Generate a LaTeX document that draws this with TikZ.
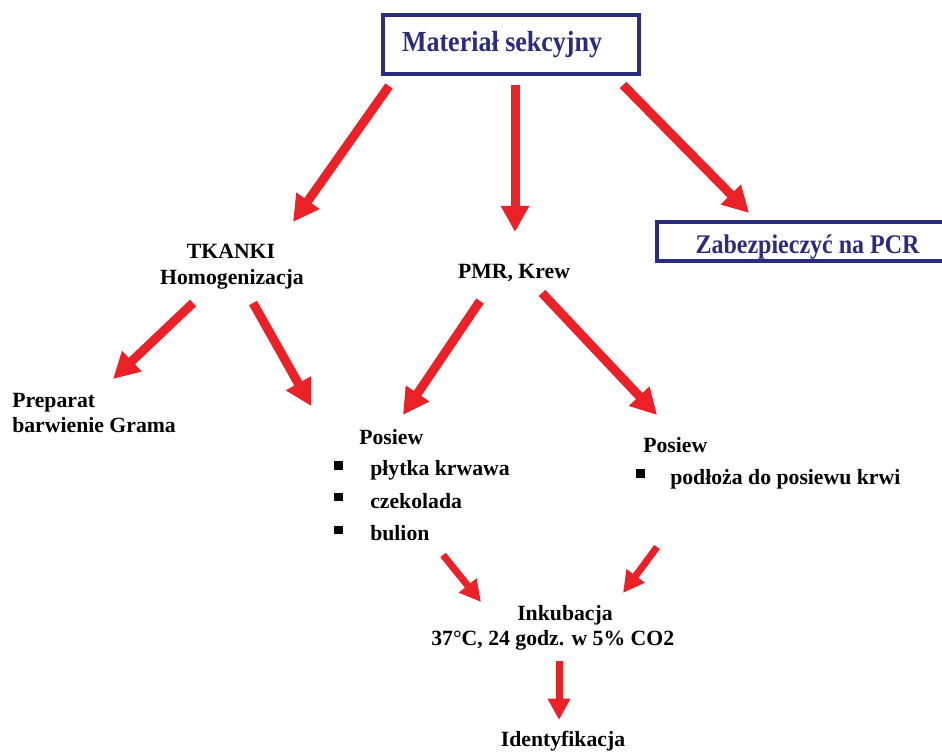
\documentclass[tikz,border=0pt]{standalone}
\usepackage{fontspec}
\usepackage{graphicx}
\setmainfont{Liberation Serif}
\usetikzlibrary{arrows.meta}
\definecolor{navy}{RGB}{43,43,128}
\definecolor{arrred}{RGB}{236,32,39}
\begin{document}
\begin{tikzpicture}[x=0.75pt,y=-0.75pt,
  lbl/.style={font=\fontsize{16.3}{19.5}\selectfont\bfseries, inner sep=0pt, text=black},
  navytxt/.style={font=\fontsize{19.5}{22}\selectfont\bfseries, inner sep=0pt, text=navy},
  navybox/.style={draw=navy, line width=3pt, inner sep=0pt, fill=white},
  bulletsq/.style={fill=black, inner sep=0pt, minimum size=6.5pt},
  bigarrow/.style={draw=arrred, line width=6.75pt, -{Triangle[width=20pt,length=19.5pt]}},
  smallarrow/.style={draw=arrred, line width=5.25pt, -{Triangle[width=16pt,length=16pt]}}]
\useasboundingbox (0,0) rectangle (942,752);
\clip (0,0) rectangle (942,752);
\fill[white] (0,0) rectangle (942,752);

% boxes
\node[navybox, minimum width=192pt, minimum height=44.25pt] (topbox) at (511,44.5) {};
\node[navytxt, anchor=base] (toptxt) at (502,52) {\scalebox{1}[1.12]{Materiał sekcyjny}};
\node[navybox, minimum width=227pt, minimum height=29.5pt] (pcrbox) at (808.75,241.6) {};
\node[navytxt, font=\fontsize{18}{20}\selectfont\bfseries, anchor=base] (pcrtxt) at (807.5,253) {\scalebox{1}[1.12]{Zabezpieczyć na PCR}};

% texts
\node[lbl, anchor=base] (tkanki) at (231,259) {TKANKI};
\node[lbl, anchor=base] (homog) at (232,285) {Homogenizacja};
\node[lbl, anchor=base] (pmr) at (514,278) {PMR, Krew};
\node[lbl, anchor=base west] (prep) at (12,407) {Preparat};
\node[lbl, anchor=base west] (barw) at (12,432) {barwienie Grama};

\node[lbl, anchor=base west] (pos1) at (359,444) {Posiew};
\node[bulletsq] (b1) at (338.5,465.5) {};
\node[lbl, anchor=base west] (i1) at (370,475) {płytka krwawa};
\node[bulletsq] (b2) at (338.5,497) {};
\node[lbl, anchor=base west] (i2) at (370,508) {czekolada};
\node[bulletsq] (b3) at (338.5,530) {};
\node[lbl, anchor=base west] (i3) at (370,540) {bulion};

\node[lbl, anchor=base west] (pos2) at (643,452) {Posiew};
\node[bulletsq] (b4) at (640.5,473.5) {};
\node[lbl, anchor=base west] (i4) at (670,484) {podłoża do posiewu krwi};

\node[lbl, anchor=base] (inkub) at (565,620) {Inkubacja};
\node[lbl, anchor=base west] (temp) at (431,645) {37°C, 24 godz. w 5\% CO2};
\node[lbl, anchor=base] (ident) at (563,746) {Identyfikacja};

% arrow end points
\coordinate (a1s) at (389,86);  \coordinate (a1e) at (293,222);
\coordinate (a2s) at (515,85);  \coordinate (a2e) at (515,232);
\coordinate (a3s) at (623,85);  \coordinate (a3e) at (749,213);
\coordinate (a4s) at (193,303); \coordinate (a4e) at (113,379);
\coordinate (a5s) at (253,303); \coordinate (a5e) at (311,406);
\coordinate (a6s) at (480,301); \coordinate (a6e) at (403,415);
\coordinate (a7s) at (542,293); \coordinate (a7e) at (657,415);
\coordinate (a8s) at (443,555); \coordinate (a8e) at (481,602);
\coordinate (a9s) at (657,547); \coordinate (a9e) at (623,593);
\coordinate (a10s) at (559,661); \coordinate (a10e) at (559,720);

\draw[bigarrow] (a1s) -- (a1e);
\draw[bigarrow] (a2s) -- (a2e);
\draw[bigarrow] (a3s) -- (a3e);
\draw[bigarrow] (a4s) -- (a4e);
\draw[bigarrow] (a5s) -- (a5e);
\draw[bigarrow] (a6s) -- (a6e);
\draw[bigarrow] (a7s) -- (a7e);
\draw[smallarrow] (a8s) -- (a8e);
\draw[smallarrow] (a9s) -- (a9e);
\draw[smallarrow] (a10s) -- (a10e);
\end{tikzpicture}
\end{document}
